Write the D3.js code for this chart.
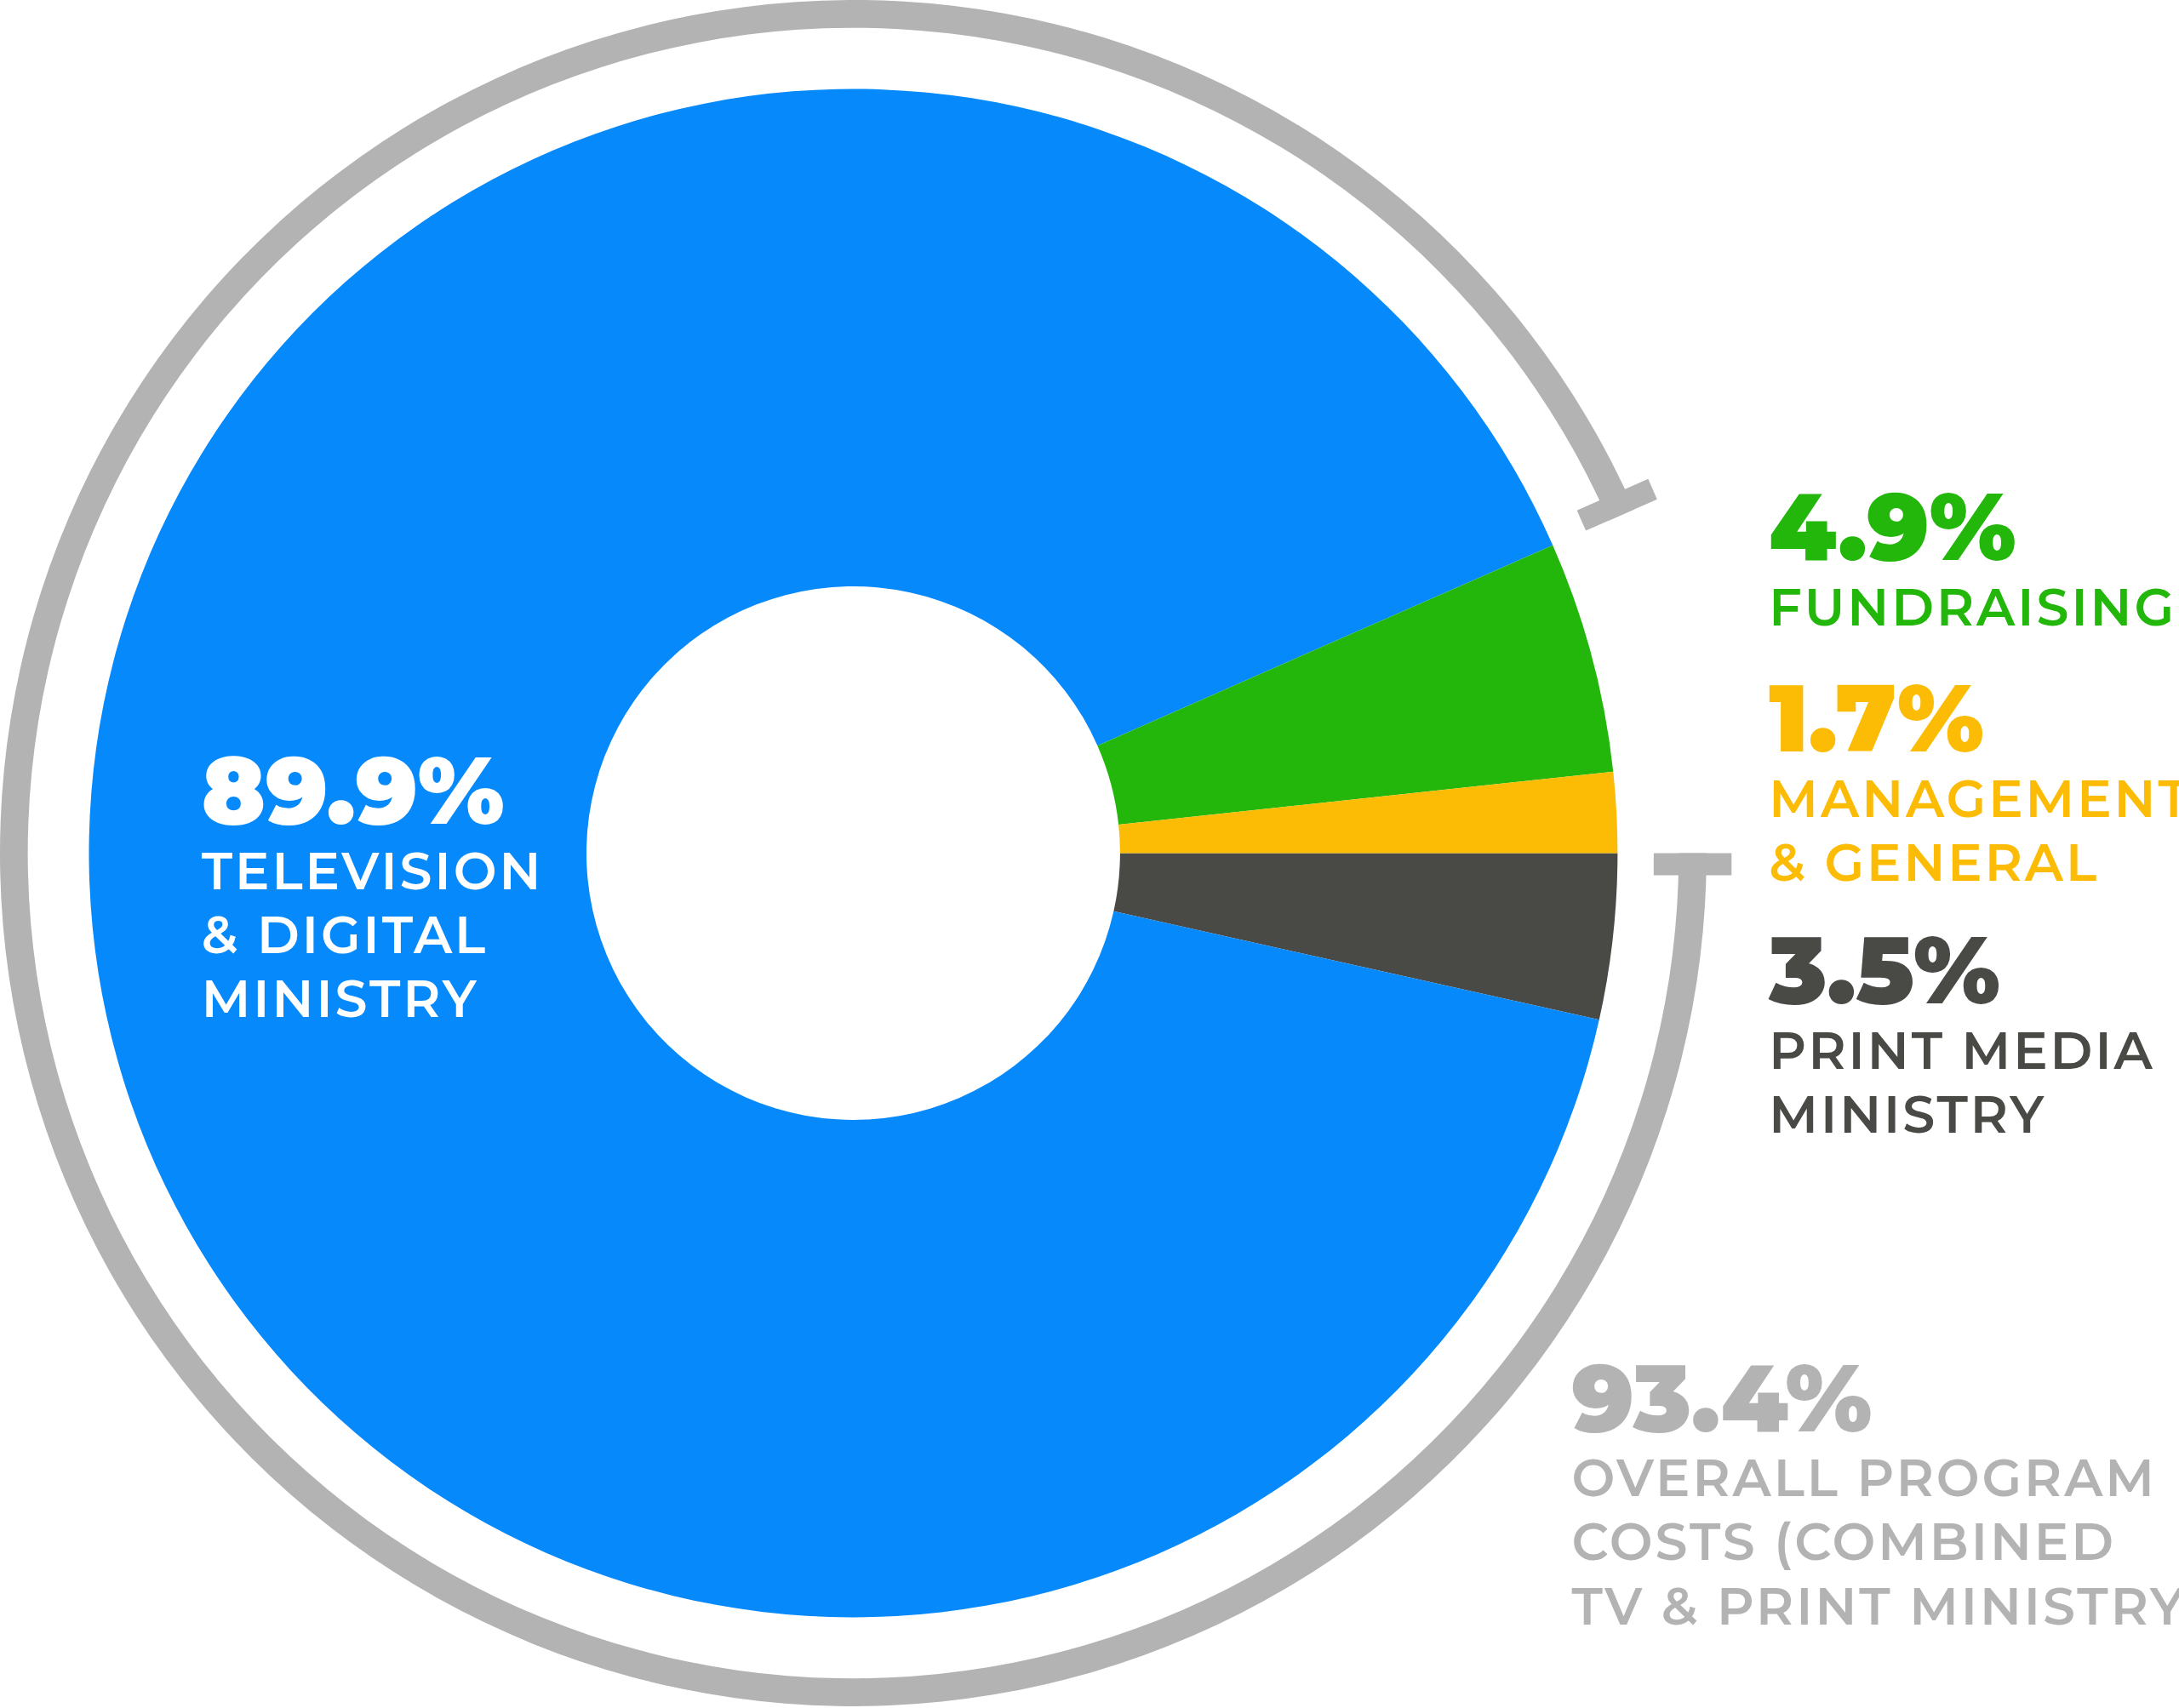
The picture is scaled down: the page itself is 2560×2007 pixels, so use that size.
<!DOCTYPE html>
<html><head><meta charset="utf-8">
<script src="https://cdn.jsdelivr.net/npm/d3@7"></script>
<style>body{margin:0;background:#fff}svg{display:block}text{font-family:Montserrat,"Open Sans",Lato,sans-serif}</style>
</head><body><svg id="c" width="2560" height="2007"></svg>
<script>
const categories=["Print Media Ministry","Television & Digital Ministry","Fundraising","Management & General"];
const values=[3.5,89.9,4.9,1.7];
const colors=["#494946","#0689FB","#23B70B","#FCBB05"];
const programShare=93.4;
const labels=[
 {pct:"89.9%",lines:["TELEVISION","& DIGITAL","MINISTRY"],color:"#ffffff",x:145,y:593},
 {pct:"4.9%",lines:["FUNDRAISING"],color:"#23B70B",x:1273,y:403},
 {pct:"1.7%",lines:["MANAGEMENT","& GENERAL"],color:"#FCBB05",x:1273,y:541},
 {pct:"3.5%",lines:["PRINT MEDIA","MINISTRY"],color:"#494946",x:1273,y:722},
 {pct:"93.4%",lines:["OVERALL PROGRAM","COSTS (COMBINED","TV & PRINT MINISTRY)"],color:"#B3B3B3",x:1131,y:1030}
];
const s=2560/1568;
const svg=d3.select("#c");
const g=svg.append("g").attr("transform",`translate(${614*s},${614*s})`);
const pie=d3.pie().sort(null).startAngle(Math.PI/2).endAngle(Math.PI/2+2*Math.PI);
const arcs=pie(values);
const arc=d3.arc().innerRadius(192*s).outerRadius(550*s);
g.selectAll("path.s").data(arcs).join("path").attr("d",arc).attr("fill",(d,i)=>colors[i]);
const a0=Math.PI/2, a1=a0+2*Math.PI*programShare/100;
const rb=604*s;
g.append("path").attr("d",d3.arc().innerRadius(rb-10*s).outerRadius(rb+10*s).startAngle(a0).endAngle(a1)()).attr("fill","#B3B3B3");
[[a0,1],[a1,-1]].forEach(([a,dir])=>{
  const sx=Math.sin(a),cy=-Math.cos(a);
  const tx=Math.cos(a)*dir, ty=Math.sin(a)*dir;
  const off=8*s;
  g.append("line").attr("x1",(rb-28*s)*sx+tx*off).attr("y1",(rb-28*s)*cy+ty*off)
   .attr("x2",(rb+28*s)*sx+tx*off).attr("y2",(rb+28*s)*cy+ty*off)
   .attr("stroke","#B3B3B3").attr("stroke-width",16*s);
});
labels.forEach(l=>{
  const t=svg.append("g").attr("fill",l.color);
  t.append("text").attr("x",l.x*s).attr("y",l.y*s).attr("font-size",68*s).attr("font-weight",900).text(l.pct);
  l.lines.forEach((ln,i)=>t.append("text").attr("x",l.x*s).attr("y",(l.y+47+i*46)*s).attr("font-size",37*s).attr("font-weight",600).attr("letter-spacing",1.8*s).text(ln));
});
</script></body></html>
